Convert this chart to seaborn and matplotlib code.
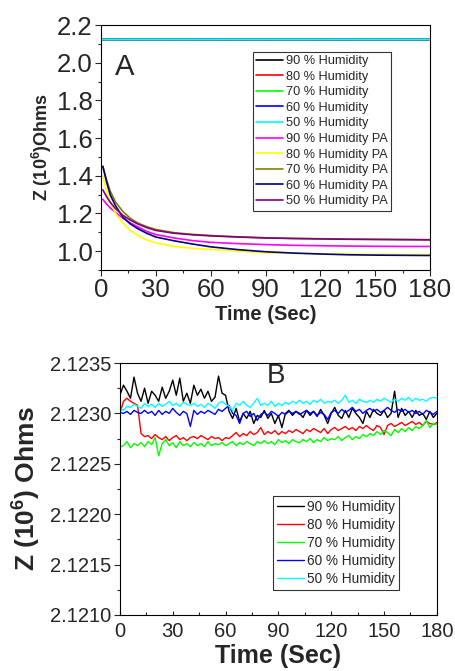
import numpy as np
import pandas as pd
import seaborn as sns
import matplotlib.pyplot as plt
from matplotlib.ticker import MultipleLocator, FormatStrFormatter

sns.set_style('ticks')
plt.rcParams['font.family'] = ['Liberation Sans', 'DejaVu Sans']
plt.rcParams['mathtext.fontset'] = 'custom'
plt.rcParams['mathtext.rm'] = 'Liberation Sans'
plt.rcParams['mathtext.bf'] = 'Liberation Sans:bold'

# ---- panel B data (also the flat line in panel A), Z in 10^6 Ohms
t_b = np.arange(0, 181, 2)
z90 = [2.12318, 2.12328, 2.12322, 2.12315, 2.12336, 2.12320, 2.12312, 2.12325, 2.12310, 2.12322, 2.12318,
       2.12312, 2.12326, 2.12315, 2.12322, 2.12333, 2.12318, 2.12335, 2.12312, 2.12320, 2.12310,
       2.12328, 2.12318, 2.12324, 2.12315, 2.12322, 2.12312, 2.12316, 2.12337, 2.12320, 2.12318,
       2.12302, 2.12295, 2.12305, 2.12292, 2.12300, 2.12295, 2.12302, 2.12290, 2.12298, 2.12296,
       2.12303, 2.12295, 2.12300, 2.12290, 2.12298, 2.12286, 2.12300, 2.12303, 2.12298, 2.12302,
       2.12300, 2.12296, 2.12303, 2.12298, 2.12302, 2.12297, 2.12304, 2.12298, 2.12290, 2.12300,
       2.12306, 2.12298, 2.12295, 2.12303, 2.12296, 2.12305, 2.12300, 2.12296, 2.12290, 2.12302,
       2.12296, 2.12304, 2.12300, 2.12298, 2.12303, 2.12296, 2.12300, 2.12322, 2.12296, 2.12305,
       2.12298, 2.12302, 2.12296, 2.12303, 2.12298, 2.12300, 2.12294, 2.12302, 2.12296, 2.12300]
z80 = [2.12300, 2.12312, 2.12315, 2.12312, 2.12310, 2.12308, 2.12280, 2.12277, 2.12278, 2.12275, 2.12279,
       2.12276, 2.12274, 2.12277, 2.12273, 2.12276, 2.12278, 2.12274, 2.12276, 2.12273, 2.12276,
       2.12277, 2.12275, 2.12278, 2.12276, 2.12274, 2.12277, 2.12275, 2.12276, 2.12273, 2.12276,
       2.12275, 2.12278, 2.12281, 2.12277, 2.12280, 2.12278, 2.12282, 2.12279, 2.12281, 2.12286,
       2.12279, 2.12282, 2.12280, 2.12283, 2.12279, 2.12282, 2.12280, 2.12283, 2.12281, 2.12284,
       2.12282, 2.12280, 2.12284, 2.12282, 2.12285, 2.12283, 2.12281, 2.12285, 2.12280, 2.12284,
       2.12286, 2.12283, 2.12285, 2.12287, 2.12284, 2.12286, 2.12283, 2.12287, 2.12285, 2.12288,
       2.12285, 2.12283, 2.12288, 2.12286, 2.12279, 2.12288, 2.12290, 2.12287, 2.12289, 2.12291,
       2.12288, 2.12290, 2.12292, 2.12289, 2.12291, 2.12288, 2.12292, 2.12290, 2.12289, 2.12291]
z70 = [2.12267, 2.12268, 2.12272, 2.12266, 2.12270, 2.12268, 2.12271, 2.12267, 2.12272, 2.12269, 2.12276,
       2.12258, 2.12270, 2.12274, 2.12268, 2.12271, 2.12266, 2.12272, 2.12268, 2.12270, 2.12267,
       2.12271, 2.12268, 2.12270, 2.12267, 2.12272, 2.12268, 2.12270, 2.12269, 2.12271, 2.12268,
       2.12270, 2.12272, 2.12268, 2.12271, 2.12269, 2.12272, 2.12270, 2.12268, 2.12272, 2.12270,
       2.12273, 2.12270, 2.12272, 2.12269, 2.12274, 2.12271, 2.12273, 2.12270, 2.12274, 2.12272,
       2.12271, 2.12274, 2.12272, 2.12275, 2.12271, 2.12274, 2.12272, 2.12276, 2.12273, 2.12275,
       2.12274, 2.12277, 2.12273, 2.12276, 2.12278, 2.12274, 2.12277, 2.12275, 2.12279, 2.12277,
       2.12280, 2.12278, 2.12282, 2.12279, 2.12283, 2.12281, 2.12278, 2.12284, 2.12281, 2.12285,
       2.12282, 2.12286, 2.12283, 2.12287, 2.12285, 2.12288, 2.12293, 2.12286, 2.12290, 2.12289]
z60 = [2.12301, 2.12300, 2.12302, 2.12299, 2.12303, 2.12301, 2.12300, 2.12303, 2.12300, 2.12302, 2.12298,
       2.12303, 2.12299, 2.12302, 2.12300, 2.12305, 2.12301, 2.12298, 2.12302, 2.12300, 2.12287,
       2.12303, 2.12299, 2.12302, 2.12300, 2.12303, 2.12301, 2.12299, 2.12304, 2.12302, 2.12305,
       2.12308, 2.12300, 2.12298, 2.12290, 2.12300, 2.12302, 2.12297, 2.12300, 2.12293, 2.12299,
       2.12301, 2.12298, 2.12302, 2.12300, 2.12297, 2.12301, 2.12299, 2.12302, 2.12300, 2.12302,
       2.12299, 2.12301, 2.12303, 2.12300, 2.12302, 2.12298, 2.12301, 2.12299, 2.12294, 2.12301,
       2.12303, 2.12300, 2.12304, 2.12301, 2.12303, 2.12306, 2.12302, 2.12304, 2.12300, 2.12303,
       2.12305, 2.12302, 2.12304, 2.12301, 2.12303, 2.12306, 2.12303, 2.12301, 2.12304, 2.12302,
       2.12304, 2.12301, 2.12303, 2.12300, 2.12302, 2.12299, 2.12303, 2.12301, 2.12299, 2.12302]
z50 = [2.12305, 2.12303, 2.12307, 2.12306, 2.12309, 2.12307, 2.12305, 2.12310, 2.12307, 2.12309, 2.12306,
       2.12310, 2.12307, 2.12309, 2.12312, 2.12308, 2.12310, 2.12307, 2.12311, 2.12309, 2.12308,
       2.12310, 2.12307, 2.12309, 2.12306, 2.12310, 2.12308, 2.12305, 2.12310, 2.12312, 2.12309,
       2.12307, 2.12303, 2.12310, 2.12308, 2.12312, 2.12308, 2.12306, 2.12310, 2.12315, 2.12308,
       2.12310, 2.12308, 2.12312, 2.12307, 2.12310, 2.12308, 2.12311, 2.12309, 2.12312, 2.12310,
       2.12313, 2.12310, 2.12312, 2.12309, 2.12313, 2.12311, 2.12314, 2.12310, 2.12312, 2.12311,
       2.12313, 2.12310, 2.12313, 2.12318, 2.12311, 2.12313, 2.12310, 2.12314, 2.12312, 2.12311,
       2.12313, 2.12311, 2.12314, 2.12312, 2.12315, 2.12313, 2.12311, 2.12314, 2.12312, 2.12315,
       2.12313, 2.12316, 2.12312, 2.12315, 2.12313, 2.12314, 2.12312, 2.12315, 2.12316, 2.12315]

# ---- panel A, PA samples (decay curves)
t_pa = [1, 3, 5, 8, 12, 16, 20, 25, 30, 40, 50, 60, 75, 90, 105, 120, 135, 150, 165, 180]
pa90 = [1.275, 1.25, 1.23, 1.205, 1.175, 1.15, 1.13, 1.105, 1.088, 1.07, 1.056, 1.047, 1.04, 1.035, 1.031, 1.029, 1.027, 1.026, 1.025, 1.025]
pa80 = [1.40, 1.32, 1.26, 1.20, 1.15, 1.11, 1.085, 1.06, 1.044, 1.025, 1.015, 1.009, 1.0, 0.992, 0.988, 0.986, 0.984, 0.983, 0.982, 0.982]
pa70 = [1.45, 1.38, 1.32, 1.26, 1.21, 1.175, 1.15, 1.13, 1.115, 1.098, 1.089, 1.083, 1.076, 1.071, 1.068, 1.066, 1.064, 1.063, 1.062, 1.061]
pa60 = [1.45, 1.37, 1.30, 1.24, 1.18, 1.145, 1.12, 1.095, 1.075, 1.055, 1.038, 1.023, 1.008, 0.997, 0.99, 0.985, 0.981, 0.979, 0.978, 0.977]
pa50 = [1.325, 1.29, 1.26, 1.225, 1.19, 1.165, 1.145, 1.125, 1.11, 1.095, 1.087, 1.081, 1.075, 1.07, 1.067, 1.065, 1.063, 1.062, 1.061, 1.06]

names_b = ['90 % Humidity', '80 % Humidity', '70 % Humidity', '60 % Humidity', '50 % Humidity']
names_pa = [n + ' PA' for n in names_b]
col_b = ['black', 'red', '#00ff00', 'blue', 'cyan']
col_pa = ['magenta', 'yellow', '#808000', '#000080', '#800080']

frames = []
for n, z in zip(names_b, [z90, z80, z70, z60, z50]):
    frames.append(pd.DataFrame({'t': t_b, 'z': z, 'series': n}))
df_b = pd.concat(frames)
frames = []
for n, z in zip(names_pa, [pa90, pa80, pa70, pa60, pa50]):
    frames.append(pd.DataFrame({'t': t_pa, 'z': z, 'series': n}))
df_a = pd.concat([df_b] + frames)

fig = plt.figure(figsize=(4.56, 6.71), dpi=100)
ax1 = fig.add_axes([0.2215, 0.5976, 0.7215, 0.3651])
ax2 = fig.add_axes([0.263, 0.0835, 0.695, 0.3755])

# panel A
sns.lineplot(data=df_a, x='t', y='z', hue='series', hue_order=names_b + names_pa,
             palette=col_b + col_pa, estimator=None, lw=1.2, ax=ax1)
ax1.set_xlim(0, 180)
ax1.set_ylim(0.9, 2.2)
ax1.xaxis.set_major_locator(MultipleLocator(30))
ax1.xaxis.set_minor_locator(MultipleLocator(15))
ax1.yaxis.set_major_locator(MultipleLocator(0.2))
ax1.yaxis.set_minor_locator(MultipleLocator(0.1))
ax1.yaxis.set_major_formatter(FormatStrFormatter('%.1f'))
ax1.tick_params(labelsize=18.5, length=4, width=0.8, pad=2)
ax1.tick_params(which='minor', length=2.5, width=0.8)
ax1.set_xlabel('Time (Sec)', fontsize=14.5, fontweight='bold', labelpad=2)
ax1.set_ylabel('Z (10$^\\mathbf{6}$)Ohms', fontsize=13, fontweight='bold', labelpad=2)
ax1.text(0.043, 0.83, 'A', transform=ax1.transAxes, fontsize=21, va='center')
leg = ax1.legend(loc='upper left', bbox_to_anchor=(0.462, 0.89), fontsize=9.2,
                 frameon=True, fancybox=False, handlelength=2.1, handletextpad=0.2,
                 labelspacing=0.28, borderpad=0.25, borderaxespad=0)
leg.get_frame().set_edgecolor('black')
leg.get_frame().set_linewidth(0.8)

# panel B
sns.lineplot(data=df_b, x='t', y='z', hue='series', hue_order=names_b,
             palette=col_b, estimator=None, lw=1.0, ax=ax2)
ax2.set_xlim(0, 180)
ax2.set_ylim(2.1210, 2.1235)
ax2.xaxis.set_major_locator(MultipleLocator(30))
ax2.xaxis.set_minor_locator(MultipleLocator(15))
ax2.yaxis.set_major_locator(MultipleLocator(0.0005))
ax2.yaxis.set_minor_locator(MultipleLocator(0.00025))
ax2.yaxis.set_major_formatter(FormatStrFormatter('%.4f'))
ax2.tick_params(labelsize=14.5, length=4, width=0.8, pad=2)
ax2.tick_params(axis='x', direction='in', length=3, pad=5)
ax2.tick_params(which='minor', length=2.5, width=0.8)
ax2.tick_params(axis='x', which='minor', direction='in', length=2)
ax2.set_xlabel('Time (Sec)', fontsize=18, fontweight='bold', labelpad=2)
ax2.set_ylabel('Z (10$^\\mathbf{6}$) Ohms', fontsize=19, fontweight='bold', labelpad=6)
ax2.text(0.494, 0.948, 'B', transform=ax2.transAxes, fontsize=20, ha='center', va='center')
leg2 = ax2.legend(loc='upper left', bbox_to_anchor=(0.483, 0.473), fontsize=9.8,
                  frameon=True, fancybox=False, handlelength=2.0, handletextpad=0.2,
                  labelspacing=0.3, borderpad=0.3, borderaxespad=0)
leg2.get_frame().set_edgecolor('black')
leg2.get_frame().set_linewidth(0.8)

for ax in (ax1, ax2):
    for s in ax.spines.values():
        s.set_color('black')
        s.set_linewidth(0.8)

fig.savefig('out.png', dpi=100)
